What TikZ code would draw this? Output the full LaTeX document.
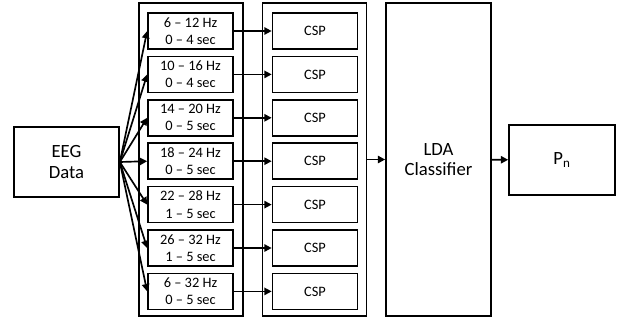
\documentclass[tikz,border=0pt]{standalone}
\usepackage{fontspec}
\setmainfont{Carlito}
\usetikzlibrary{%
	arrows.meta,%
	positioning,%
}
\tikzset{
	>={Triangle[length=5.5pt,width=5.5pt]},%
	nodes={align=center},%
	blockbox/.style={%
			draw,%
			rectangle,%
			line width=1.25pt,%
			minimum width=78.75pt,%
			minimum height=52.5pt,%
			font={\fontsize{14}{15.5}\selectfont}},%
	bankbox/.style={%
			draw,%
			rectangle,%
			line width=1.25pt,%
			minimum width=78pt,%
			minimum height=234.75pt},%
	filternode/.style={%
			draw,%
			rectangle,%
			line width=1.25pt,%
			fill=white,%
			inner sep=0pt,%
			minimum width=63.75pt,%
			minimum height=27pt,%
			font={\fontsize{10.8}{12.8}\selectfont}},%
	conn/.style={->, line width=1.25pt},%
}
\begin{document}
\begin{tikzpicture}[x=0.75pt, y=-0.75pt]%
	\useasboundingbox (0,0) rectangle (621,322);

	% input and output blocks
	\node[blockbox] (eeg) at (66.5,162) {EEG\\Data};
	\node[blockbox, minimum height=234.75pt] (lda) at (438.5,159.5) {LDA\\Classifier};
	\node[blockbox, minimum width=79.5pt] (pn) at (562,160) {P\textsubscript{n}};

	% the two banks
	\node[bankbox] (filterbank) at (191,159.5) {};
	\node[bankbox] (cspbank) at (314.5,159.5) {};

	\foreach \fa/\fb/\ta/\tb [count=\i] in {6/12/0/4, 10/16/0/4, 14/20/0/5, 18/24/0/5, 22/28/1/5, 26/32/1/5, 6/32/0/5} {
		\node[filternode] (filter\i) at (190.5,{31+43.4*(\i-1)}) {\fa\ -- \fb\ Hz\\\ta\ -- \tb\ sec};
		\node[filternode] (csp\i) at (315,{31+43.4*(\i-1)}) {CSP};
		\draw[conn] (eeg.east) to (filter\i.west);
		\draw[conn] (filter\i) to (csp\i);
	}

	\draw[conn] (cspbank) to (lda);
	\draw[conn] (lda) to (pn);
\end{tikzpicture}
\end{document}
